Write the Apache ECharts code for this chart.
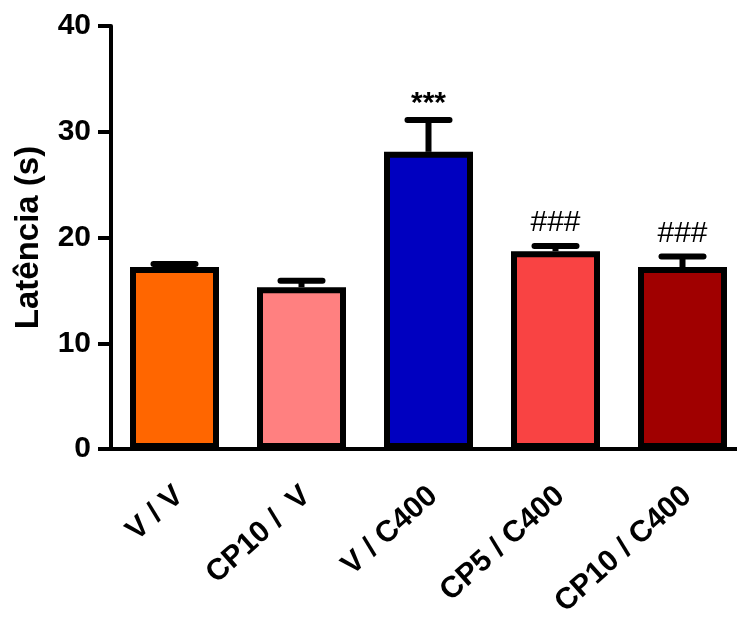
<!DOCTYPE html>
<html>
<head>
<meta charset="utf-8">
<script src="https://cdn.jsdelivr.net/npm/echarts@6/dist/echarts.min.js"></script>
<style>
  html, body { margin: 0; padding: 0; background: #fff; }
  #chart { width: 737px; height: 617px; }
</style>
</head>
<body>
<div id="chart"></div>
<script>
// dados
var categories = ['V / V', 'CP10 /  V', 'V / C400', 'CP5 / C400', 'CP10 / C400']
var means = [17.2, 15.3, 28.1, 18.7, 17.2]
var errors = [0.3, 0.6, 3.0, 0.5, 1.0]
var marks = ['', '', '***', '###', '###']
var yTicks = [0, 10, 20, 30, 40]

var colors = ['#ff6600', '#ff8080', '#0000c0', '#f94343', '#a00000']
var font = 'Liberation Sans, Arial, sans-serif'

var chart = echarts.init(document.getElementById('chart'))

var option = {
  animation: false,
  grid: {
    left: 111,
    right: -9,
    top: 26,
    bottom: 168,
    containLabel: false,
    outerBoundsMode: 'none'
  },
  xAxis: {
    type: 'category',
    data: categories,
    axisLine: { lineStyle: { color: '#000', width: 4 } },
    axisTick: { alignWithLabel: true, length: 12, lineStyle: { color: '#000', width: 3 } },
    axisLabel: {
      interval: 0,
      rotate: 42,
      margin: 27,
      padding: [0, 7, 0, 0],
      verticalAlign: 'top',
      color: '#000',
      fontFamily: font,
      fontWeight: 'bold',
      fontSize: 30
    }
  },
  yAxis: {
    type: 'value',
    min: yTicks[0],
    max: yTicks[yTicks.length - 1],
    interval: 10,
    name: 'Latência (s)',
    nameLocation: 'middle',
    nameGap: 66,
    nameTextStyle: {
      color: '#000',
      fontFamily: font,
      fontWeight: 'bold',
      fontSize: 33
    },
    splitLine: { show: false },
    axisLine: { show: true, lineStyle: { color: '#000', width: 4 } },
    axisTick: { show: true, length: 13, lineStyle: { color: '#000', width: 4 } },
    axisLabel: {
      margin: 20,
      color: '#000',
      fontFamily: font,
      fontWeight: 'bold',
      fontSize: 30
    }
  },
  series: [
    {
      // barras de erro + marcas de significância
      type: 'custom',
      z: 1,
      data: means.map(function(m, i) { return [i, m, m + errors[i]] }),
      renderItem: function(params, api) {
        var i = api.value(0)
        var base = api.coord([i, api.value(1)])
        var top = api.coord([i, api.value(2)])
        var children = [
          {
            type: 'line',
            shape: { x1: base[0], y1: base[1], x2: top[0], y2: top[1] },
            style: { stroke: '#000', lineWidth: 6 }
          },
          {
            type: 'line',
            shape: { x1: top[0] - 21, y1: top[1], x2: top[0] + 21, y2: top[1] },
            style: { stroke: '#000', lineWidth: 6, lineCap: 'round' }
          }
        ]
        var mark = marks[i]
        if (mark) {
          var star = mark === '***'
          children.push({
            type: 'text',
            x: top[0],
            y: top[1] - (star ? 1 : 8),
            style: {
              text: mark,
              align: 'center',
              verticalAlign: 'bottom',
              fill: '#000',
              font: (star ? 'bold ' : '') + '30px ' + font
            }
          })
        }
        return { type: 'group', children: children }
      }
    },
    {
      type: 'bar',
      z: 2,
      barWidth: 89,
      data: means.map(function(m, i) {
        return { value: m, itemStyle: { color: colors[i] } }
      }),
      itemStyle: { borderColor: '#000', borderWidth: 6 }
    }
  ]
}

chart.setOption(option)
</script>
</body>
</html>
